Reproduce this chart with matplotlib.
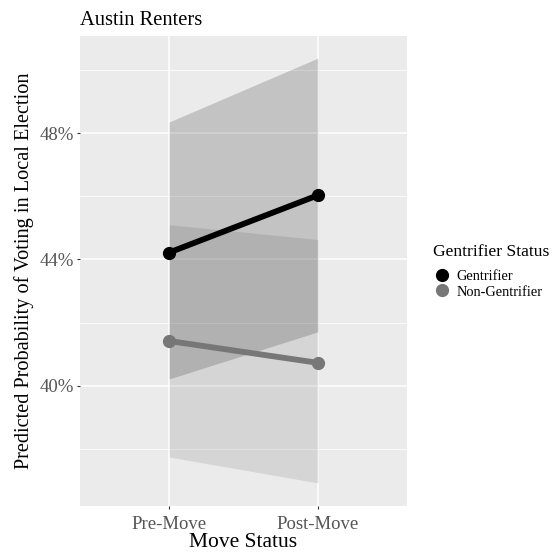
import matplotlib
matplotlib.use("Agg")
from matplotlib import pyplot as plt
from matplotlib.lines import Line2D
from matplotlib.ticker import FixedLocator, FuncFormatter
import numpy as np

plt.rcParams['font.family'] = ['Liberation Serif', 'DejaVu Serif']

# data (percent)
moves = ['Pre-Move', 'Post-Move']
groups = ['Gentrifier', 'Non-Gentrifier']
gent_mean = [44.22, 46.03]
gent_low = [40.22, 41.71]
gent_high = [48.35, 50.37]
nongent_mean = [41.42, 40.73]
nongent_low = [37.75, 36.93]
nongent_high = [45.10, 44.63]

line_colors = ['#000000', '#777777']

fig = plt.figure(figsize=(5.52, 5.54), dpi=100)
ax = fig.add_axes([80/552, 1 - 506/554, (407-80)/552, (506-36)/554])
ax.set_facecolor('#EBEBEB')
for s in ax.spines.values():
    s.set_visible(False)

x = np.arange(len(moves))

# ribbons
ax.fill_between(x, nongent_low, nongent_high, color='#808080', alpha=0.2, lw=0, zorder=2)
ax.fill_between(x, gent_low, gent_high, color='#000000', alpha=0.17, lw=0, zorder=2)

# lines + points
ax.plot(x, gent_mean, color=line_colors[0], lw=4.2, marker='o', ms=8.5, zorder=4,
        solid_capstyle='butt')
ax.plot(x, nongent_mean, color=line_colors[1], lw=4.2, marker='o', ms=8.5, zorder=3,
        solid_capstyle='butt')

ax.set_xlim(-0.6, 1.6)
ax.set_ylim(36.2, 51.07)
ax.set_xticks(x)
ax.set_xticklabels(moves)
ax.yaxis.set_major_locator(FixedLocator([40, 44, 48]))
ax.yaxis.set_minor_locator(FixedLocator([38, 42, 46, 50]))
ax.yaxis.set_major_formatter(FuncFormatter(lambda v, p: '%d%%' % v))

ax.grid(True, which='major', color='white', lw=1.1, zorder=1)
ax.grid(True, which='minor', axis='y', color='white', lw=0.55, zorder=1)
ax.set_axisbelow(True)

ax.tick_params(axis='both', which='major', length=2.5, width=0.8, color='#333333',
               labelsize=13.5, labelcolor='#555555', pad=2)
ax.tick_params(axis='x', which='major', pad=4.5)
ax.tick_params(axis='y', which='minor', length=0)

ax.set_xlabel('Move Status', fontsize=15.5, labelpad=0)
ax.set_ylabel('Predicted Probability of Voting in Local Election', fontsize=14.6, labelpad=4)
ax.set_title('Austin Renters', fontsize=14.8, loc='left', pad=8)

# legend
fig.text(433/552, 1 - 252/554, 'Gentrifier Status', fontsize=12.6, ha='left', va='center')
handles = [Line2D([], [], ls='none', marker='o', ms=8.5, color=c) for c in line_colors]
leg = fig.legend(handles, groups, loc='upper left',
                 bbox_to_anchor=(425/552, 1 - 260/554), frameon=False,
                 fontsize=10.4, handlelength=1.0,
                 handletextpad=0.5, labelspacing=0.15, borderpad=0.2)

fig.savefig('out.png', dpi=100)
